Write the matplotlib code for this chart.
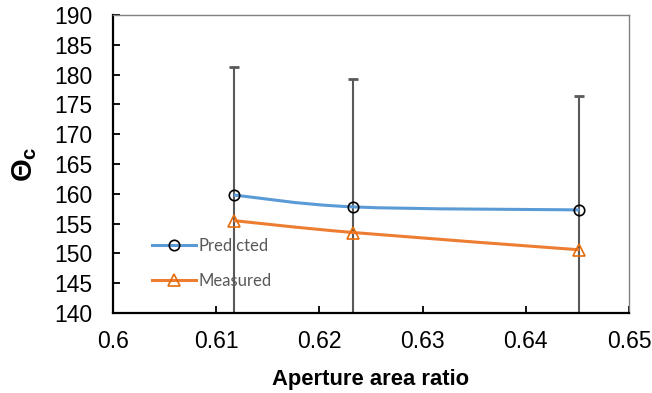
import numpy as np
import matplotlib.pyplot as plt
from matplotlib.path import Path
from matplotlib.patches import PathPatch
from matplotlib.lines import Line2D

ratio = [0.6117, 0.6233, 0.6452]
predicted = [159.8, 157.8, 157.3]
measured = [155.5, 153.5, 150.6]
pred_err = [21.5, 21.5, 19.1]
xticks = [0.6, 0.61, 0.62, 0.63, 0.64, 0.65]
yticks = [140, 145, 150, 155, 160, 165, 170, 175, 180, 185, 190]


def smooth_path(x, y, t=1/6):
	# catmull-rom style bezier through the points, like excel's smoothed line
	x = np.asarray(x, float)
	y = np.asarray(y, float)
	verts = [(x[0], y[0])]
	codes = [Path.MOVETO]
	n = len(x)
	for i in range(n - 1):
		i0 = max(i - 1, 0)
		i3 = min(i + 2, n - 1)
		c1 = (x[i] + (x[i + 1] - x[i0]) * t, y[i] + (y[i + 1] - y[i0]) * t)
		c2 = (x[i + 1] - (x[i3] - x[i]) * t, y[i + 1] - (y[i3] - y[i]) * t)
		verts += [c1, c2, (x[i + 1], y[i + 1])]
		codes += [Path.CURVE4] * 3
	return Path(verts, codes)


plt.rcParams['font.family'] = ['Liberation Sans', 'DejaVu Sans']

fig = plt.figure(figsize=(6.52, 3.93), dpi=100)
ax = fig.add_axes([0.1733, 0.2036, 0.7914, 0.7582])

blue = '#5B9BD5'
orange = '#ED7D31'

ax.errorbar(ratio, predicted, yerr=pred_err, fmt='none', ecolor='#595959',
			elinewidth=1.5, capsize=3.6, capthick=2, zorder=2)
ax.add_patch(PathPatch(smooth_path(ratio, predicted), facecolor='none',
					   edgecolor=blue, lw=2.2, zorder=3))
ax.add_patch(PathPatch(smooth_path(ratio, measured), facecolor='none',
					   edgecolor=orange, lw=2.2, zorder=3))
ax.plot(ratio, predicted, linestyle='none', marker='o', ms=7.5,
		mfc='none', mec='black', mew=1.2, zorder=4)
ax.plot(ratio, measured, linestyle='none', marker='^', ms=8,
		mfc='none', mec='#E46C0A', mew=1.2, zorder=4)

ax.set_xlim(0.6, 0.65)
ax.set_ylim(140, 190)
ax.set_xticks(xticks)
ax.set_xticklabels([f'{v:g}' for v in xticks])
ax.set_yticks(yticks)
ax.tick_params(direction='in', length=5, width=1.3, labelsize=16.5, colors='black')
ax.tick_params(axis='x', pad=12)
ax.tick_params(axis='y', pad=15)

for side in ['left', 'bottom']:
	ax.spines[side].set_color('black')
	ax.spines[side].set_linewidth(1.6)
for side in ['top', 'right']:
	ax.spines[side].set_color('#808080')
	ax.spines[side].set_linewidth(1.0)

ax.set_xlabel('Aperture area ratio', fontsize=15.8, fontweight='bold', labelpad=12)
ax.set_ylabel('Θ$_\\mathregular{c}$', fontsize=21, fontweight='bold', labelpad=11)

handles = [
	Line2D([], [], color=blue, lw=2.2, marker='o', ms=7.5, mfc='none',
		   mec='black', mew=1.2),
	Line2D([], [], color=orange, lw=2.2, marker='^', ms=8, mfc='none',
		   mec='#E46C0A', mew=1.2),
]
leg = ax.legend(handles, ['Predicted', 'Measured'], loc='lower left',
				bbox_to_anchor=(0.06, 0.052), frameon=False, handlelength=2.6,
				handletextpad=0.15, labelspacing=1.15, borderpad=0,
				prop={'family': 'Lato', 'size': 12})
for txt in leg.get_texts():
	txt.set_color('#595959')

fig.savefig('out.png', dpi=100)
